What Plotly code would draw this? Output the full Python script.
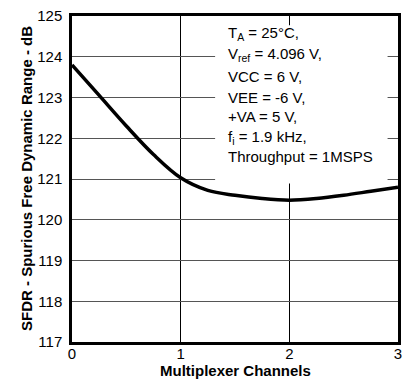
import plotly.graph_objects as go

channels = [0, 0.25, 0.5, 0.75, 1.0, 1.25, 1.5, 1.75, 2.0, 2.25, 2.5, 2.75, 3.0]
sfdr = [123.8, 123.05, 122.3, 121.6, 121.03, 120.72, 120.6, 120.52, 120.48, 120.52, 120.6, 120.7, 120.8]

x_ticks = [0, 1, 2, 3]
y_ticks = [117, 118, 119, 120, 121, 122, 123, 124, 125]

note_lines = [
    "T<sub>A</sub> = 25°C,",
    "V<sub>ref</sub> = 4.096 V,",
    "VCC = 6 V,",
    "VEE = -6 V,",
    "+VA = 5 V,",
    "f<sub>i</sub> = 1.9 kHz,",
    "Throughput = 1MSPS",
]
note_y = [124.58, 124.06, 123.52, 123.0, 122.53, 122.03, 121.54]

x_title = "Multiplexer Channels"
y_title = "SFDR - Spurious Free Dynamic Range - dB"

FONT = "Liberation Sans, Arial, sans-serif"

fig = go.Figure()
fig.add_trace(go.Scatter(x=channels, y=sfdr, mode="lines",
                         line=dict(color="black", width=3.5, shape="spline", smoothing=1.0),
                         hoverinfo="skip"))

fig.add_shape(type="rect", xref="x", yref="y", x0=1.317, x1=2.904, y0=120.89, y1=124.77,
              fillcolor="white", line=dict(width=0), layer="between")

for t, yy in zip(note_lines, note_y):
    fig.add_annotation(x=1.417, y=yy, xref="x", yref="y", text=t, showarrow=False,
                       xanchor="left", yanchor="middle", align="left",
                       font=dict(family=FONT, size=15, color="black"))

fig.add_annotation(x=0.5, y=0, xref="paper", yref="paper", yshift=-28, text="<b>" + x_title + "</b>",
                   showarrow=False, xanchor="center", yanchor="middle",
                   font=dict(family=FONT, size=15, color="black"))
fig.add_annotation(x=0, y=0.5, xref="paper", yref="paper", xshift=-46, text="<b>" + y_title + "</b>",
                   textangle=-90, showarrow=False, xanchor="center", yanchor="middle",
                   font=dict(family=FONT, size=15, color="black"))

fig.update_layout(
    width=397, height=373,
    margin=dict(l=63.5, r=6.5, t=8, b=39),
    paper_bgcolor="white", plot_bgcolor="white",
    showlegend=False,
    font=dict(family=FONT, size=15, color="black"),
)
fig.update_xaxes(range=[0, 3], tickvals=x_ticks, ticks="", showgrid=True, gridcolor="black",
                 gridwidth=1, showline=True, linecolor="black", linewidth=2.5, mirror=True,
                 zeroline=False, tickfont=dict(size=15), automargin=False,
                 ticklabelstandoff=-4, ticklabeloverflow="allow")
fig.update_yaxes(range=[117, 125], tickvals=y_ticks, ticks="", showgrid=True, gridcolor="#555555",
                 gridwidth=1.2, showline=True, linecolor="black", linewidth=2.5, mirror=True,
                 zeroline=False, tickfont=dict(size=15), ticklabelstandoff=4, automargin=False,
                 ticklabeloverflow="allow")

fig.write_html("out.html")
